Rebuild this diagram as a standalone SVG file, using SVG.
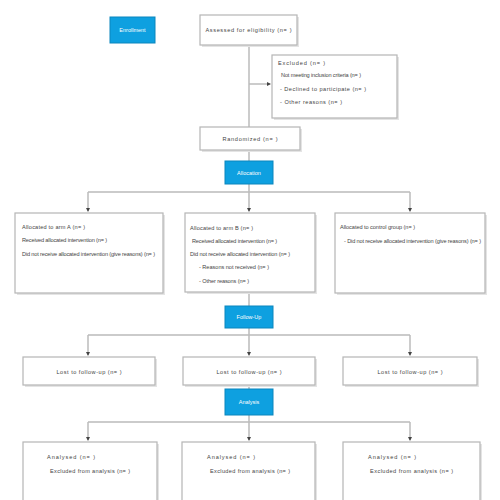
<svg xmlns="http://www.w3.org/2000/svg" width="500" height="500" viewBox="0 0 500 500">
<style>
.box{fill:#fff;stroke:#b5b5b5;stroke-width:1.2}
.shadow{fill:#e4e4e4}
.stage{fill:#0ea0e0;stroke:#0b86bd;stroke-width:1}
.t{font-family:"Liberation Sans",Arial,sans-serif;font-size:5.6px;fill:#444}
.st{font-family:"Liberation Sans",Arial,sans-serif;font-size:5.5px;fill:#fff;text-anchor:middle}
.c{text-anchor:middle}
.line{fill:none;stroke:#bbb;stroke-width:1.5}
</style>
<defs>
<marker id="arr" markerWidth="4" markerHeight="4" refX="3" refY="2" orient="auto" markerUnits="userSpaceOnUse">
<path d="M0,0 L4,2 L0,4 z" fill="#444"/>
</marker>
</defs>
<rect width="500" height="500" fill="#fff"/>
<g id="connectors">
<path class="line" d="M249,45 V127"/>
<path class="line" d="M249,84 H270" marker-end="url(#arr)"/>
<path class="line" d="M249,150 V161"/>
<path class="line" d="M249,184 V192 M88,192 H410 M249,192 V211" marker-end="url(#arr)"/>
<path class="line" d="M88,192 V211" marker-end="url(#arr)"/>
<path class="line" d="M410,192 V211" marker-end="url(#arr)"/>
<path class="line" d="M249,293 V306"/>
<path class="line" d="M249,328 V335 M88,335 H410 M249,335 V355" marker-end="url(#arr)"/>
<path class="line" d="M88,335 V355" marker-end="url(#arr)"/>
<path class="line" d="M410,335 V355" marker-end="url(#arr)"/>
<path class="line" d="M249,386 V389"/>
<path class="line" d="M249,415 V422 M88,422 H410 M249,422 V440" marker-end="url(#arr)"/>
<path class="line" d="M88,422 V440" marker-end="url(#arr)"/>
<path class="line" d="M410,422 V440" marker-end="url(#arr)"/>
</g>
<g id="enrollment">
<rect class="stage" x="110" y="17" width="45" height="26"/>
<text class="st" x="132.5" y="32">Enrollment</text>
</g>
<g id="assessed">
<rect class="shadow" x="202" y="17" width="97" height="30"/>
<rect class="box" x="200" y="15" width="97" height="30"/>
<text class="t c" x="248.5" y="32" textLength="86">Assessed for eligibility (n= )</text>
</g>
<g id="excluded">
<rect class="shadow" x="274" y="57" width="125" height="63"/>
<rect class="box" x="272" y="55" width="125" height="63"/>
<text class="t" x="278" y="65" textLength="47">Excluded (n= )</text>
<text class="t" x="281" y="77" textLength="80">Not meeting inclusion criteria (n= )</text>
<text class="t" x="280" y="91" textLength="86">- Declined to participate (n= )</text>
<text class="t" x="280" y="104" textLength="62">- Other reasons (n= )</text>
</g>
<g id="randomized">
<rect class="shadow" x="202" y="129" width="100" height="23"/>
<rect class="box" x="200" y="127" width="100" height="23"/>
<text class="t c" x="250" y="141" textLength="55">Randomized (n= )</text>
</g>
<g id="allocation">
<rect class="stage" x="225" y="161" width="48" height="23"/>
<text class="st" x="249" y="174.5">Allocation</text>
</g>
<g id="alloc1">
<rect class="shadow" x="17" y="215" width="148" height="80"/>
<rect class="box" x="15" y="213" width="148" height="80"/>
<text class="t" x="22" y="229" textLength="63">Allocated to arm A (n= )</text>
<text class="t" x="22" y="242" textLength="85">Received allocated intervention (n= )</text>
<text class="t" x="22" y="256" textLength="133">Did not receive allocated intervention (give reasons) (n= )</text>
</g>
<g id="alloc2">
<rect class="shadow" x="187" y="215" width="130" height="79"/>
<rect class="box" x="185" y="213" width="130" height="79"/>
<text class="t" x="190" y="230" textLength="63">Allocated to arm B (n= )</text>
<text class="t" x="192" y="243" textLength="85">Received allocated intervention (n= )</text>
<text class="t" x="190" y="256" textLength="100">Did not receive allocated intervention (n= )</text>
<text class="t" x="199" y="269" textLength="70">- Reasons not received (n= )</text>
<text class="t" x="199" y="283" textLength="50">- Other reasons (n= )</text>
</g>
<g id="alloc3">
<rect class="shadow" x="337" y="215" width="150" height="80"/>
<rect class="box" x="335" y="213" width="150" height="80"/>
<text class="t" x="340" y="229" textLength="75">Allocated to control group (n= )</text>
<text class="t" x="344" y="243" textLength="137">- Did not receive allocated intervention (give reasons) (n= )</text>
</g>
<g id="followup">
<rect class="stage" x="225" y="306" width="48" height="22"/>
<text class="st" x="249" y="319">Follow-Up</text>
</g>
<g id="lost1">
<rect class="shadow" x="25" y="359" width="132" height="28"/>
<rect class="box" x="23" y="357" width="132" height="28"/>
<text class="t c" x="89" y="373.5" textLength="65">Lost to follow-up (n= )</text>
</g>
<g id="lost2">
<rect class="shadow" x="185" y="359" width="132" height="28"/>
<rect class="box" x="183" y="357" width="132" height="28"/>
<text class="t c" x="249" y="373.5" textLength="65">Lost to follow-up (n= )</text>
</g>
<g id="lost3">
<rect class="shadow" x="345" y="359" width="134" height="28"/>
<rect class="box" x="343" y="357" width="134" height="28"/>
<text class="t c" x="410" y="373.5" textLength="65">Lost to follow-up (n= )</text>
</g>
<g id="analysis">
<rect class="stage" x="225" y="389" width="48" height="26"/>
<text class="st" x="249" y="404">Analysis</text>
</g>
<g id="an1">
<rect class="shadow" x="25" y="444" width="134" height="70"/>
<rect class="box" x="23" y="442" width="134" height="70"/>
<text class="t" x="47" y="459" textLength="48">Analysed (n= )</text>
<text class="t" x="50" y="473" textLength="80">Excluded from analysis (n= )</text>
</g>
<g id="an2">
<rect class="shadow" x="184" y="444" width="133" height="70"/>
<rect class="box" x="182" y="442" width="133" height="70"/>
<text class="t" x="207" y="459" textLength="48">Analysed (n= )</text>
<text class="t" x="210" y="473" textLength="80">Excluded from analysis (n= )</text>
</g>
<g id="an3">
<rect class="shadow" x="345" y="444" width="137" height="70"/>
<rect class="box" x="343" y="442" width="137" height="70"/>
<text class="t" x="368" y="459" textLength="48">Analysed (n= )</text>
<text class="t" x="370" y="473" textLength="83">Excluded from analysis (n= )</text>
</g>
</svg>
